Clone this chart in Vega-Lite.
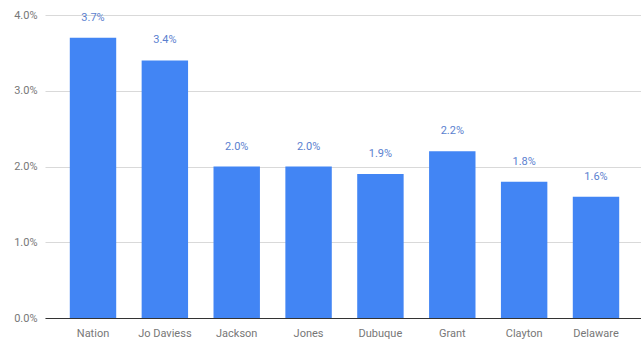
{
  "$schema": "https://vega.github.io/schema/vega-lite/v6.json",
  "autosize": "none",
  "width": 599,
  "height": 303,
  "padding": {"left": 45, "top": 15, "right": 0, "bottom": 27},
  "background": "white",
  "config": {"view": {"stroke": null}, "font": "Roboto"},
  "data": {"values": [
    {"place": "Nation", "rate": 0.037},
    {"place": "Jo Daviess", "rate": 0.034},
    {"place": "Jackson", "rate": 0.020},
    {"place": "Jones", "rate": 0.020},
    {"place": "Dubuque", "rate": 0.019},
    {"place": "Grant", "rate": 0.022},
    {"place": "Clayton", "rate": 0.018},
    {"place": "Delaware", "rate": 0.016}
  ]},
  "encoding": {
    "x": {"field": "place", "type": "nominal", "sort": null,
      "scale": {"paddingInner": 0.354, "paddingOuter": 0.345},
      "axis": {"title": null, "labelAngle": 0, "ticks": false, "domain": true, "domainColor": "#333333", "domainWidth": 1, "labelColor": "#777777", "labelFontSize": 11, "labelPadding": 9}},
    "y": {"field": "rate", "type": "quantitative",
      "scale": {"domain": [0, 0.04]},
      "axis": {"title": null, "format": ".1%", "values": [0, 0.01, 0.02, 0.03, 0.04], "ticks": false, "domain": false, "gridColor": "#d9d9d9", "labelColor": "#777777", "labelFontSize": 11, "labelPadding": 8}}
  },
  "layer": [
    {"mark": {"type": "bar", "color": "#4285F4"}},
    {"mark": {"type": "text", "baseline": "bottom", "dy": -15, "color": "#5b7fcf", "fontSize": 11},
     "encoding": {"text": {"field": "rate", "type": "quantitative", "format": ".1%"}}}
  ]
}
